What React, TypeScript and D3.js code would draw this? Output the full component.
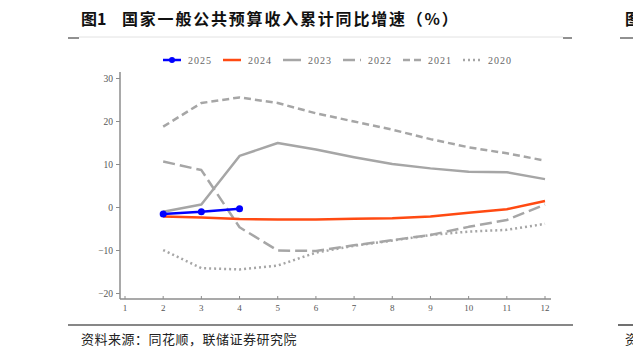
import React from "react";
import * as d3 from "d3";

const months = [2, 3, 4, 5, 6, 7, 8, 9, 10, 11, 12];
const xTicks = [1, 2, 3, 4, 5, 6, 7, 8, 9, 10, 11, 12];
const yTicks = [-20, -10, 0, 10, 20, 30];

const s2025 = [-1.5, -1.0, -0.3];
const s2024 = [-2.1, -2.3, -2.7, -2.8, -2.8, -2.6, -2.5, -2.1, -1.2, -0.4, 1.5];
const s2023 = [-1.0, 0.7, 12.0, 15.0, 13.5, 11.7, 10.1, 9.1, 8.3, 8.2, 6.6];
const s2022 = [10.7, 8.7, -4.6, -10.0, -10.1, -8.8, -7.6, -6.4, -4.5, -2.9, 0.7];
const s2021 = [18.8, 24.3, 25.6, 24.3, 21.9, 20.0, 18.1, 15.9, 14.0, 12.6, 10.9];
const s2020 = [-9.9, -14.1, -14.4, -13.5, -10.5, -8.9, -7.7, -6.4, -5.6, -5.2, -3.8];

const seriesNames = ["2025", "2024", "2023", "2022", "2021", "2020"];

const titleNo = "图1";
const title = "国家一般公共预算收入累计同比增速（%）";
const source = "资料来源：同花顺，联储证券研究院";

export default function App() {
  const W = 633, H = 358;
  const x = d3.scaleLinear().domain([1, 12]).range([125, 545]);
  const y = d3.scaleLinear().domain([0, 30]).range([207.5, 78.5]);
  const axLeft = 120, axRight = 551, axTop = 72, axBottom = 299;

  const line = d3.line<[number, number]>().x(d => x(d[0])).y(d => y(d[1]));
  const mk = (vals: number[]) => vals.map((v, i) => [months[i], v] as [number, number]);

  const gray = "#a6a6a6";
  const styles: Record<string, { color: string; dash?: string; width: number }> = {
    "2025": { color: "#0000ff", width: 2.5 },
    "2024": { color: "#ff4a12", width: 2.5 },
    "2023": { color: gray, width: 2.5 },
    "2022": { color: gray, dash: "12,5", width: 2.5 },
    "2021": { color: gray, dash: "7,4", width: 2.5 },
    "2020": { color: gray, dash: "2,3", width: 2.5 },
  };
  const data: Record<string, number[]> = {
    "2025": s2025, "2024": s2024, "2023": s2023, "2022": s2022, "2021": s2021, "2020": s2020,
  };
  const drawOrder = ["2020", "2021", "2022", "2023", "2024", "2025"];
  const serif = "'Liberation Serif', 'DejaVu Serif', serif";
  const cjk = "'Noto Sans CJK SC', sans-serif";

  return (
    <svg width={W} height={H} style={{ position: "absolute", left: 0, top: 0, background: "#fff" }}>
      {/* title */}
      <text x={81} y={25} fontFamily={cjk} fontWeight={700} fontSize={16} fill="#111">{titleNo}</text>
      <text x={122} y={25} fontFamily={cjk} fontWeight={700} fontSize={16} fill="#111" letterSpacing={1.8}>{title}</text>
      <text x={625} y={25} fontFamily={cjk} fontWeight={700} fontSize={16} fill="#111">图</text>
      <line x1={79} x2={563} y1={37} y2={37} stroke="#e2e2e2" strokeWidth={1} />
      <line x1={68} x2={79} y1={38} y2={38} stroke="#222" strokeWidth={1} />
      <line x1={563} x2={572} y1={38} y2={38} stroke="#222" strokeWidth={1} />
      <line x1={620} x2={633} y1={38} y2={38} stroke="#222" strokeWidth={1} />

      {/* legend */}
      {seriesNames.map((n, i) => {
        const lx = 163 + i * 60;
        const st = styles[n];
        return (
          <g key={n}>
            <line x1={lx} x2={lx + 18} y1={60} y2={60} stroke={st.color} strokeWidth={2.5} strokeDasharray={st.dash} />
            {n === "2025" && <circle cx={lx + 9} cy={60} r={3} fill={st.color} />}
            <text x={lx + 25} y={63.5} fontFamily={serif} fontSize={10} fill="#666" letterSpacing={1}>{n}</text>
          </g>
        );
      })}

      {/* axes */}
      <line x1={axLeft} x2={axLeft} y1={axTop} y2={axBottom} stroke="#8c8c8c" strokeWidth={1.5} />
      <line x1={axLeft} x2={axRight} y1={axBottom} y2={axBottom} stroke="#8c8c8c" strokeWidth={1.5} />
      {yTicks.map(t => (
        <g key={t}>
          <line x1={axLeft - 4} x2={axLeft} y1={y(t)} y2={y(t)} stroke="#8c8c8c" strokeWidth={1} />
          <text x={113} y={y(t) + 3.5} textAnchor="end" fontFamily={serif} fontSize={9.5} fill="#555">{t === 0 ? "0" : t < 0 ? "\u2212" + Math.abs(t) : String(t)}</text>
        </g>
      ))}
      {xTicks.map(t => (
        <g key={t}>
          <line x1={x(t)} x2={x(t)} y1={axBottom - 3} y2={axBottom} stroke="#8c8c8c" strokeWidth={1} />
          <text x={x(t)} y={311} textAnchor="middle" fontFamily={serif} fontSize={9} fill="#555">{t}</text>
        </g>
      ))}

      {/* series */}
      {drawOrder.map(n => {
        const st = styles[n];
        return (
          <path key={n} d={line(mk(data[n])) || ""} fill="none" stroke={st.color} strokeWidth={st.width}
            strokeDasharray={st.dash} strokeLinejoin="round" />
        );
      })}
      {mk(s2025).map((d, i) => (
        <circle key={i} cx={x(d[0])} cy={y(d[1])} r={3.5} fill="#0000ff" />
      ))}

      {/* footer */}
      <line x1={68} x2={573} y1={325} y2={325} stroke="#111" strokeWidth={1.2} />
      <line x1={618} x2={633} y1={325} y2={325} stroke="#111" strokeWidth={1.2} />
      <text x={81} y={344} fontFamily={cjk} fontSize={13} fill="#222" letterSpacing={0.5}>{source}</text>
      <text x={625} y={344} fontFamily={cjk} fontSize={13} fill="#222">资</text>
    </svg>
  );
}
